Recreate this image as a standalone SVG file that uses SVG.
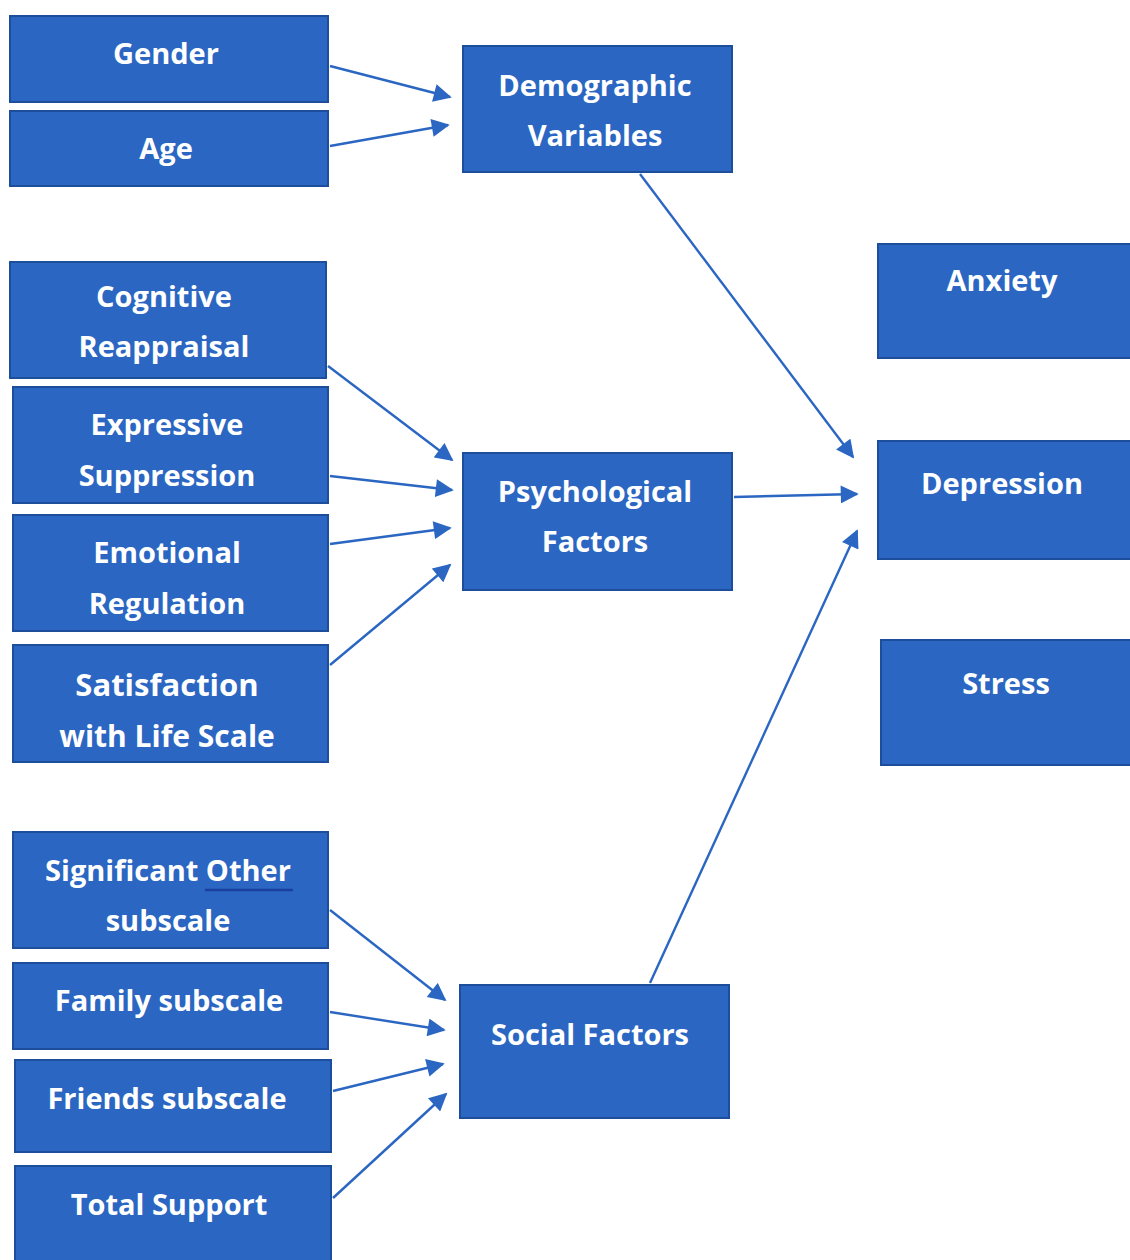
<svg xmlns="http://www.w3.org/2000/svg" width="1130" height="1260" viewBox="0 0 1130 1260">
<defs>
<marker id="ah" viewBox="0 0 10 10" refX="9" refY="5" markerWidth="8" markerHeight="7.5" markerUnits="strokeWidth" orient="auto">
<path d="M0,0 L10,5 L0,10 z" fill="#2A66C2"/>
</marker>
<style>
.box{fill:#2A66C2;stroke:#1C4E9C;stroke-width:2}
.t{font-family:"Open Sans","Noto Sans","Liberation Sans",sans-serif;font-weight:700;font-size:29px;fill:#FFFFFF;text-anchor:middle}
.c{stroke:#2A66C2;stroke-width:2.4;fill:none;marker-end:url(#ah)}
</style>
</defs>
<rect width="1130" height="1260" fill="#FFFFFF"/>
<g id="connectors">
<line class="c" x1="330" y1="66" x2="450" y2="97"/>
<line class="c" x1="330" y1="146" x2="448" y2="125"/>
<line class="c" x1="640" y1="174" x2="853" y2="457"/>
<line class="c" x1="328" y1="366" x2="452" y2="460"/>
<line class="c" x1="330" y1="476" x2="452" y2="490"/>
<line class="c" x1="330" y1="544" x2="450" y2="528"/>
<line class="c" x1="330" y1="665" x2="450" y2="565"/>
<line class="c" x1="734" y1="497" x2="857" y2="494"/>
<line class="c" x1="650" y1="983" x2="857" y2="531"/>
<line class="c" x1="330" y1="910" x2="445" y2="1000"/>
<line class="c" x1="330" y1="1012" x2="444" y2="1030"/>
<line class="c" x1="333" y1="1091" x2="443" y2="1064"/>
<line class="c" x1="333" y1="1198" x2="446" y2="1094"/>
</g>
<g id="gender"><rect class="box" x="10" y="16" width="318" height="86"/><text class="t" x="166" y="64">Gender</text></g>
<g id="age"><rect class="box" x="10" y="111" width="318" height="75"/><text class="t" x="166" y="159">Age</text></g>
<g id="demographic"><rect class="box" x="463" y="46" width="269" height="126"/><text class="t" x="595" y="96">Demographic</text><text class="t" x="595" y="146">Variables</text></g>
<g id="cognitive"><rect class="box" x="10" y="262" width="316" height="116"/><text class="t" x="164" y="307">Cognitive</text><text class="t" x="164" y="357">Reappraisal</text></g>
<g id="expressive"><rect class="box" x="13" y="387" width="315" height="116"/><text class="t" x="167" y="435">Expressive</text><text class="t" x="167" y="486">Suppression</text></g>
<g id="emotional"><rect class="box" x="13" y="515" width="315" height="116"/><text class="t" x="167" y="563">Emotional</text><text class="t" x="167" y="614">Regulation</text></g>
<g id="satisfaction"><rect class="box" x="13" y="645" width="315" height="117"/><text class="t" x="167" y="696" style="font-size:31px">Satisfaction</text><text class="t" x="167" y="747" style="font-size:30px">with Life Scale</text></g>
<g id="psychological"><rect class="box" x="463" y="453" width="269" height="137"/><text class="t" x="595" y="502">Psychological</text><text class="t" x="595" y="552">Factors</text></g>
<g id="anxiety"><rect class="box" x="878" y="244" width="254" height="114"/><text class="t" x="1002" y="291">Anxiety</text></g>
<g id="depression"><rect class="box" x="878" y="441" width="254" height="118"/><text class="t" x="1002" y="494">Depression</text></g>
<g id="stress"><rect class="box" x="881" y="640" width="251" height="125"/><text class="t" x="1006" y="694">Stress</text></g>
<g id="significant"><rect class="box" x="13" y="832" width="315" height="116"/><text class="t" x="168" y="881">Significant Other</text><text class="t" x="168" y="931">subscale</text><line x1="205" y1="890" x2="293" y2="890" stroke="#1A3F9E" stroke-width="2.5"/></g>
<g id="family"><rect class="box" x="13" y="963" width="315" height="86"/><text class="t" x="169" y="1011">Family subscale</text></g>
<g id="friends"><rect class="box" x="15" y="1060" width="316" height="92"/><text class="t" x="167" y="1109">Friends subscale</text></g>
<g id="total"><rect class="box" x="15" y="1166" width="316" height="100"/><text class="t" x="169" y="1215">Total Support</text></g>
<g id="social"><rect class="box" x="460" y="985" width="269" height="133"/><text class="t" x="590" y="1045">Social Factors</text></g>
</svg>
